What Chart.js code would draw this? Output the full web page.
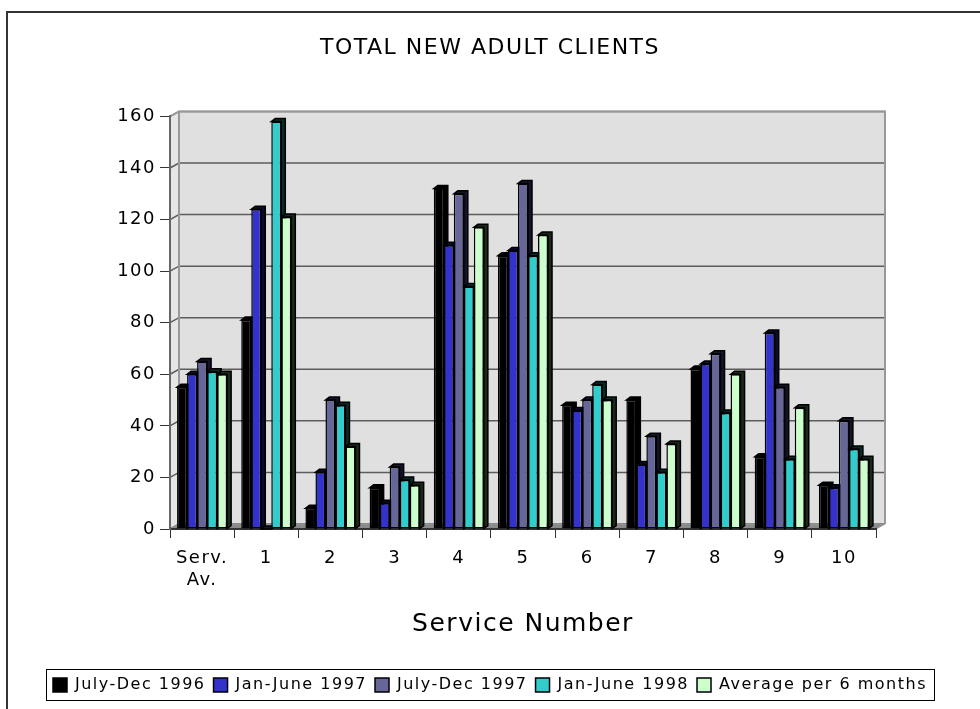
<!DOCTYPE html>
<html>
<head>
<meta charset="utf-8">
<title>Total New Adult Clients</title>
<script src="https://cdn.jsdelivr.net/npm/chart.js@4/dist/chart.umd.min.js"></script>
<style>
  html, body { margin: 0; padding: 0; background: #fff; overflow: hidden; }
</style>
</head>
<body>
<canvas id="clientsChart" width="980" height="709"></canvas>
<script>
// categories along the x axis
const services = [['Serv.', 'Av.'], '1', '2', '3', '4', '5', '6', '7', '8', '9', '10'];

// new adult clients per six-month period
const julyDec1996 = [55, 81, 8, 16, 132, 106, 48, 50, 62, 28, 17];
const janJune1997 = [60, 124, 22, 10, 110, 108, 46, 25, 64, 76, 16];
const julyDec1997 = [65, 0, 50, 24, 130, 134, 50, 36, 68, 55, 42];
const janJune1998 = [61, 158, 48, 19, 94, 106, 56, 22, 45, 27, 31];
const averagePer6 = [60, 121, 32, 17, 117, 114, 50, 33, 60, 47, 27];

const yTicks = [0, 20, 40, 60, 80, 100, 120, 140, 160];

const FONT = "'DejaVu Sans', sans-serif";
Chart.defaults.font.family = FONT;
Chart.defaults.color = '#000';

// 3D look: back wall, floor, side wall and bar extrusions
const WALL_DX = 9, WALL_DY = 5;
const BAR_DX = 4, BAR_DY = 3;

function spacing(chart) {
    chart.ctx.letterSpacing = '1.5px';
}

const depthPlugin = {
    id: 'depth',
    beforeInit: spacing,
    beforeUpdate: spacing,
    beforeDraw(chart) {
        spacing(chart);
        const { ctx, chartArea: a } = chart;
        const y = chart.scales.y;
        ctx.save();
        ctx.fillStyle = '#fff';
        ctx.fillRect(0, 0, chart.width, chart.height);

        // left side wall
        ctx.fillStyle = '#e6e6e6';
        ctx.beginPath();
        ctx.moveTo(a.left, a.top);
        ctx.lineTo(a.left + WALL_DX, a.top - WALL_DY);
        ctx.lineTo(a.left + WALL_DX, a.bottom - WALL_DY);
        ctx.lineTo(a.left, a.bottom);
        ctx.closePath();
        ctx.fill();

        // back wall
        ctx.fillStyle = '#e0e0e0';
        ctx.fillRect(a.left + WALL_DX, a.top - WALL_DY, a.right - a.left, a.bottom - a.top);

        // grid lines on the walls
        ctx.strokeStyle = '#5c5c5c';
        ctx.lineWidth = 1.5;
        yTicks.forEach(v => {
            const py = y.getPixelForValue(v);
            ctx.beginPath();
            ctx.moveTo(a.left, py);
            ctx.lineTo(a.left + WALL_DX, py - WALL_DY);
            ctx.lineTo(a.right + WALL_DX, py - WALL_DY);
            ctx.stroke();
        });

        // wall edges
        ctx.strokeStyle = '#999';
        ctx.lineWidth = 2;
        ctx.beginPath();
        ctx.moveTo(a.left, a.top);
        ctx.lineTo(a.left + WALL_DX, a.top - WALL_DY);
        ctx.lineTo(a.right + WALL_DX, a.top - WALL_DY);
        ctx.lineTo(a.right + WALL_DX, a.bottom - WALL_DY);
        ctx.moveTo(a.left + WALL_DX, a.top - WALL_DY);
        ctx.lineTo(a.left + WALL_DX, a.bottom - WALL_DY);
        ctx.stroke();

        // floor
        ctx.fillStyle = '#8a8a8a';
        ctx.beginPath();
        ctx.moveTo(a.left, a.bottom);
        ctx.lineTo(a.left + WALL_DX, a.bottom - WALL_DY);
        ctx.lineTo(a.right + WALL_DX, a.bottom - WALL_DY);
        ctx.lineTo(a.right, a.bottom);
        ctx.closePath();
        ctx.fill();
        ctx.strokeStyle = '#999';
        ctx.lineWidth = 1;
        ctx.stroke();
        ctx.restore();
    },
    beforeDatasetsDraw(chart) {
        const ctx = chart.ctx;
        ctx.save();
        ctx.lineWidth = 1.5;
        ctx.strokeStyle = '#000';
        chart.data.datasets.forEach((ds, i) => {
            const meta = chart.getDatasetMeta(i);
            meta.data.forEach(bar => {
                const { x, y, base, width } = bar.getProps(['x', 'y', 'base', 'width'], true);
                const l = x - width / 2, r = x + width / 2;
                ctx.fillStyle = ds.sideColor;
                ctx.beginPath();
                ctx.moveTo(l, y);
                ctx.lineTo(l + BAR_DX, y - BAR_DY);
                ctx.lineTo(r + BAR_DX, y - BAR_DY);
                ctx.lineTo(r + BAR_DX, base - BAR_DY);
                ctx.lineTo(r, base);
                ctx.lineTo(r, y);
                ctx.closePath();
                ctx.fill();
                ctx.stroke();
            });
        });
        ctx.restore();
    },
    afterDraw(chart) {
        const ctx = chart.ctx;
        ctx.save();
        // frame round the legend
        const boxes = chart.legend.legendHitBoxes;
        if (boxes && boxes.length) {
            const left = Math.min(...boxes.map(b => b.left));
            const right = Math.max(...boxes.map(b => b.left + b.width));
            const top = Math.min(...boxes.map(b => b.top));
            const bottom = Math.max(...boxes.map(b => b.top + b.height));
            ctx.strokeStyle = '#000';
            ctx.lineWidth = 1;
            ctx.strokeRect(Math.round(left - 7) + 0.5, Math.round(top - 8) + 0.5,
                Math.round(right - left + 14), Math.round(bottom - top + 15));
        }
        // outer chart border
        ctx.strokeStyle = '#333';
        ctx.lineWidth = 2;
        ctx.beginPath();
        ctx.moveTo(7, chart.height);
        ctx.lineTo(7, 12);
        ctx.lineTo(chart.width, 12);
        ctx.stroke();
        ctx.restore();
    }
};

function series(label, data, color, side) {
    return {
        label: label,
        data: data,
        backgroundColor: color,
        sideColor: side,
        borderColor: '#000',
        borderWidth: 1.5,
        borderSkipped: false,
        barPercentage: 1,
        categoryPercentage: 0.78
    };
}

const ctx = document.getElementById('clientsChart').getContext('2d');

let chart = new Chart(ctx, {
    type: 'bar',
    data: {
        labels: services,
        datasets: [
            series('July-Dec 1996', julyDec1996, '#000000', '#000000'),
            series('Jan-June 1997', janJune1997, '#3333cc', '#0a0a2a'),
            series('July-Dec 1997', julyDec1997, '#666699', '#15152a'),
            series('Jan-June 1998', janJune1998, '#33cccc', '#0a2a2a'),
            series('Average per 6 months', averagePer6, '#ccffcc', '#1a2a1a')
        ]
    },
    options: {
        responsive: false,
        animation: false,
        layout: { padding: { left: 0, right: 0, top: 0, bottom: 6 } },
        plugins: {
            title: {
                display: true,
                text: 'TOTAL NEW ADULT CLIENTS',
                color: '#000',
                font: { size: 22, weight: 'normal' },
                padding: { top: 35, bottom: 55 }
            },
            legend: {
                position: 'bottom',
                labels: {
                    boxWidth: 14,
                    boxHeight: 14,
                    color: '#000',
                    font: { size: 16 },
                    padding: 8
                }
            },
            tooltip: { enabled: false }
        },
        scales: {
            x: {
                ticks: { color: '#000', font: { size: 18 }, padding: 10, maxRotation: 0, autoSkip: false },
                grid: { drawOnChartArea: false, tickLength: 9, color: '#333', offset: true },
                border: { color: '#333', width: 2 },
                title: {
                    display: true,
                    text: 'Service Number',
                    color: '#000',
                    font: { size: 25 },
                    padding: { top: 0, bottom: 30 }
                },
                afterFit(scale) { scale.height = 140; }
            },
            y: {
                min: 0,
                max: 160,
                ticks: { stepSize: 20, color: '#000', font: { size: 18 }, padding: 4 },
                grid: { drawOnChartArea: false, tickLength: 10, color: '#333' },
                border: { color: '#666', width: 2 },
                afterFit(scale) { scale.width = 170; }
            },
            yRight: {
                position: 'right',
                display: true,
                ticks: { display: false },
                grid: { display: false },
                border: { display: false },
                afterFit(scale) { scale.width = 104; }
            }
        }
    },
    plugins: [depthPlugin]
});
</script>
</body>
</html>
